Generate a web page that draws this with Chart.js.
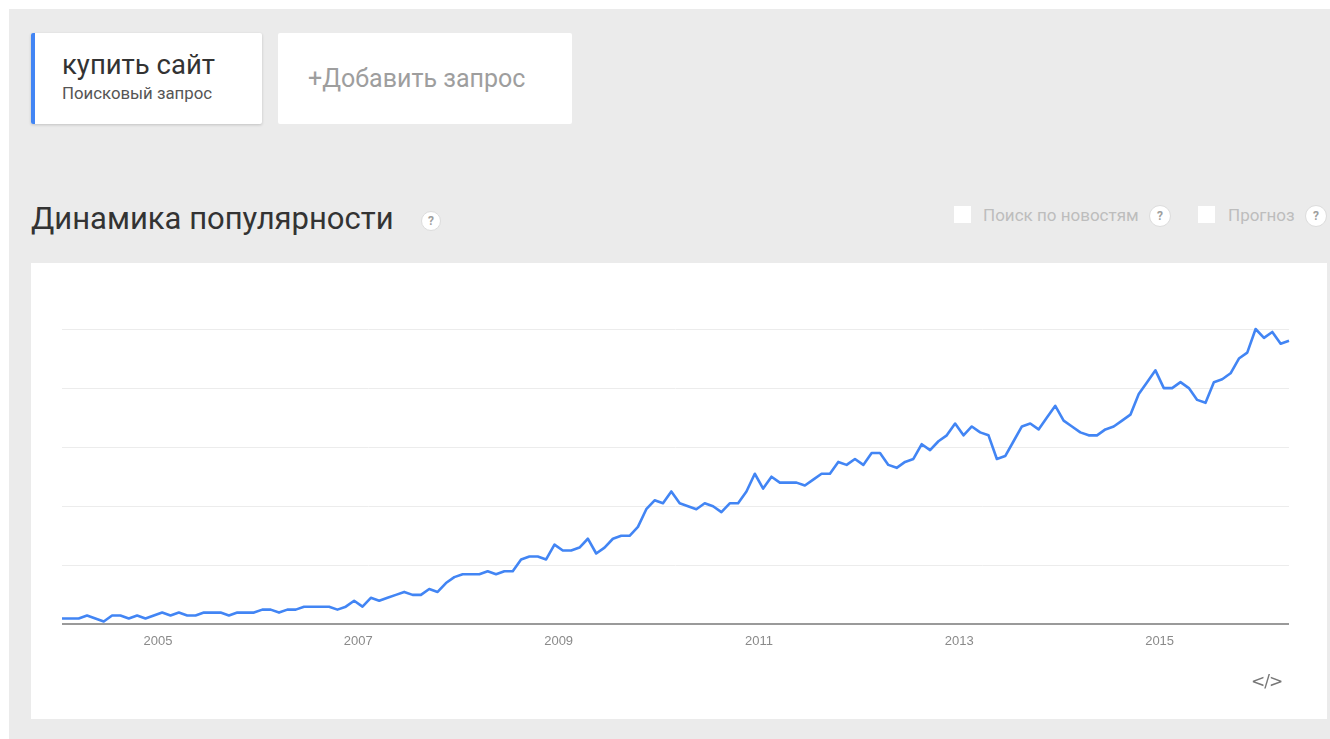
<!DOCTYPE html>
<html><head><meta charset="utf-8">
<script src="https://cdn.jsdelivr.net/npm/chart.js@4.4.1/dist/chart.umd.min.js"></script>
<style>
html,body{margin:0;padding:0;background:#fff;width:1330px;height:739px;overflow:hidden;font-family:Roboto,Arial,sans-serif}
#bg{position:absolute;left:9px;top:9px;width:1321px;height:730px;background:#ebebeb}
.abs{position:absolute;white-space:nowrap}
.card{position:absolute;background:#fff;border-radius:2px}
#c1{left:31px;top:33px;width:231px;height:91px;box-shadow:0 1px 3px rgba(0,0,0,.18)}
#c1bar{position:absolute;left:0;top:0;width:4px;height:91px;background:#4285f4;border-radius:2px 0 0 2px}
#c2{left:278px;top:33px;width:294px;height:91px}
.help{position:absolute;width:18px;height:18px;border-radius:50%;background:#fff;border:1px solid #dcdcdc;color:#9e9e9e;font:bold 12px Roboto,Arial,sans-serif;text-align:center;line-height:18px}
.cb{position:absolute;width:17px;height:17px;background:#fff}
#panel{position:absolute;left:31px;top:263px;width:1296px;height:456px;background:#fff}
#wrap{position:absolute;left:0;top:0;width:1296px;height:456px}
</style></head>
<body>
<div id="bg"></div>
<div class="card" id="c1"><div id="c1bar"></div>
  <div class="abs" style="left:31px;top:15px;font-size:27.5px;color:#333">купить сайт</div>
  <div class="abs" style="left:31px;top:50px;font-size:16.8px;color:#555">Поисковый запрос</div>
</div>
<div class="card" id="c2">
  <div class="abs" style="left:30px;top:31px;font-size:25px;color:#9e9e9e">+Добавить запрос</div>
</div>
<div class="abs" style="left:31px;top:200px;font-size:31px;color:#333">Динамика популярности</div>
<div class="help" style="left:421px;top:211px">?</div>
<div class="cb" style="left:954px;top:206px"></div>
<div class="abs" style="left:983px;top:205px;font-size:17px;color:#bdbdbd">Поиск по новостям</div>
<div class="help" style="left:1149px;top:205px;width:20px;height:20px;line-height:20px">?</div>
<div class="cb" style="left:1198px;top:206px"></div>
<div class="abs" style="left:1228px;top:205px;font-size:17px;color:#bdbdbd">Прогноз</div>
<div class="help" style="left:1305px;top:205px;width:20px;height:20px;line-height:20px">?</div>
<div id="panel">
  <div id="wrap"><canvas id="chart"></canvas></div>
  <div class="abs" style="left:1220px;top:408px;font:17px 'DejaVu Sans',Arial,sans-serif;color:#777;letter-spacing:-1px">&lt;/&gt;</div>
</div>
<script>
// Monthly search interest, Jan 2004 – Apr 2016
const startYear = 2004;
const values = [
  2,2,2,3,2,1,3,3,2,3,2,3,
  4,3,4,3,3,4,4,4,3,4,4,4,
  5,5,4,5,5,6,6,6,6,5,6,8,
  6,9,8,9,10,11,10,10,12,11,14,16,
  17,17,17,18,17,18,18,22,23,23,22,27,
  25,25,26,29,24,26,29,30,30,33,39,42,
  41,45,41,40,39,41,40,38,41,41,45,51,
  46,50,48,48,48,47,49,51,51,55,54,56,
  54,58,58,54,53,55,56,61,59,62,64,68,
  64,67,65,64,56,57,62,67,68,66,70,74,
  69,67,65,64,64,66,67,69,71,78,82,86,
  80,80,82,80,76,75,82,83,85,90,92,100,
  97,99,95,96
];
const months = values.map((_, i) => {
  const y = startYear + Math.floor(i / 12);
  const m = (i % 12) + 1;
  return y + '-' + String(m).padStart(2, '0');
});
const yearTicks = ['2005', '2007', '2009', '2011', '2013', '2015'];
const gridValues = [0, 20, 40, 60, 80, 100];

function monthPos(label) {
  const [y, m] = label.split('-').map(Number);
  return y + (m - 0.5) / 12;
}
const points = months.map((mo, i) => ({ x: monthPos(mo), y: values[i] }));

new Chart(document.getElementById('chart'), {
  type: 'line',
  data: {
    labels: months,
    datasets: [{
      label: 'купить сайт',
      data: points,
      borderColor: '#4285f4',
      borderWidth: 2.6,
      pointRadius: 0,
      tension: 0,
      fill: false,
      clip: false,
      borderJoinStyle: 'round'
    }]
  },
  options: {
    responsive: true,
    maintainAspectRatio: false,
    animation: false,
    layout: { padding: { left: 31, right: 38, top: 66, bottom: 61 } },
    plugins: { legend: { display: false }, tooltip: { enabled: false } },
    scales: {
      x: {
        type: 'linear',
        min: points[0].x,
        max: points[points.length - 1].x,
        afterBuildTicks: (s) => { s.ticks = yearTicks.map(t => ({ value: Number(t) })); },
        ticks: {
          callback: (v) => String(v),
          color: '#8a8a8a',
          font: { family: "'Liberation Sans', Arial, sans-serif", size: 13 },
          padding: 9,
          maxRotation: 0,
          autoSkip: false
        },
        grid: { display: false, drawTicks: false },
        border: { display: false }
      },
      y: {
        min: 0,
        max: 100,
        afterBuildTicks: (s) => { s.ticks = gridValues.map(v => ({ value: v })); },
        ticks: { display: false },
        grid: {
          drawTicks: false,
          color: (c) => c.tick && c.tick.value === 0 ? '#9a9a9a' : '#ececec',
          lineWidth: (c) => c.tick && c.tick.value === 0 ? 2 : 1
        },
        border: { display: false }
      }
    }
  }
});
</script>
</body></html>
